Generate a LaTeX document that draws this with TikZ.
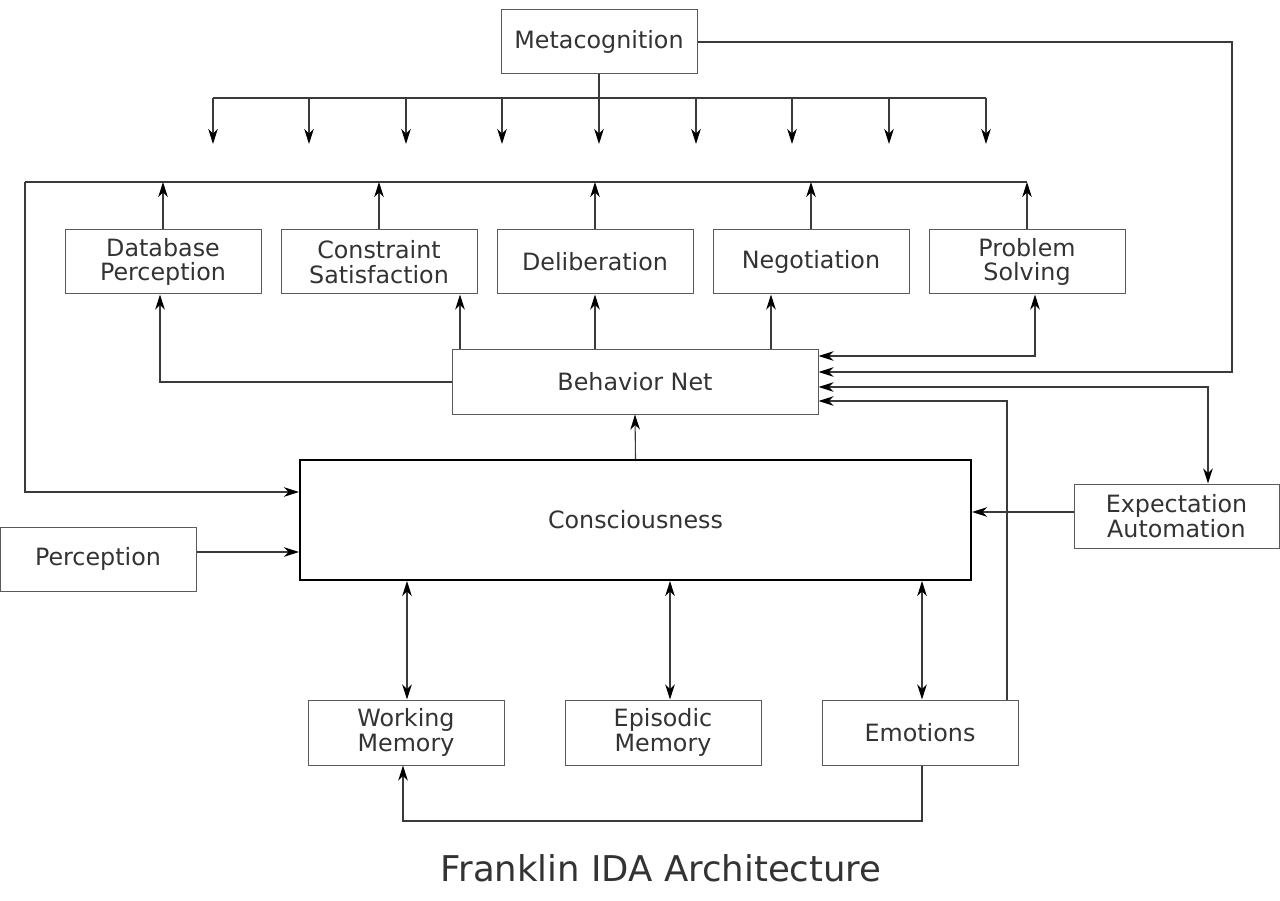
\documentclass[tikz,border=0pt]{standalone}
\usepackage{fontspec}
\setmainfont{DejaVu Sans}
\usetikzlibrary{calc}
\usetikzlibrary{arrows.meta}
\definecolor{inkgray}{HTML}{333333}
\definecolor{wiregray}{HTML}{3a3a3a}
\definecolor{framegray}{HTML}{5a5a5a}
\begin{document}
\begin{tikzpicture}[x=1pt,y=-1pt,line width=1.1pt] %% tikz
	\tikzstyle{modul}=[draw=framegray,line width=1pt,minimum width=196pt,minimum height=64pt,inner sep=0pt,align=center,text=inkgray,font=\fontsize{23.8}{24.8}\selectfont];
	\tikzstyle{wire}=[draw=wiregray];
	\tikzstyle{one}=[-{Stealth[length=15pt,width=9.5pt,inset=4.5pt,color=black]}];
	\tikzstyle{two}=[{Stealth[length=15pt,width=9.5pt,inset=4.5pt,color=black]}-{Stealth[length=15pt,width=9.5pt,inset=4.5pt,color=black]}];
	\useasboundingbox (0,0) rectangle (1280,901);
	%% boxes
	\node[modul] (meta) at (599,42) {Metacognition};
	\node[modul] (dbp) at (163,262) {Database\\Perception};
	\node[modul] (cst) at (379,262) {Constraint\\Satisfaction};
	\node[modul] (delib) at (595,262) {Deliberation};
	\node[modul] (nego) at (811,262) {Negotiation};
	\node[modul] (prob) at (1027,262) {Problem\\Solving};
	\node[modul,minimum width=366pt] (bnet) at (635,382) {Behavior Net};
	\node[modul,draw=black,line width=2pt,minimum width=671pt,minimum height=120pt] (consc) at (635.5,520) {Consciousness};
	\node[modul] (perc) at (98,559) {Perception};
	\node[modul,minimum width=205pt] (expa) at (1176.5,516) {Expectation\\Automation};
	\node[modul,minimum height=65pt] (wm) at (406,732.5) {Working\\Memory};
	\node[modul,minimum height=65pt] (epi) at (663,732.5) {Episodic\\Memory};
	\node[modul,minimum height=65pt] (emo) at (920,732.5) {Emotions};
	\node[text=inkgray,font=\fontsize{35.5}{40}\selectfont] (title) at (661,868) {Franklin IDA Architecture};
	%% metacognition fan-out
	\coordinate (fan) at (599,98);
	\draw[wire] (meta) -- (fan);
	\draw[wire] (213,98) -- (986,98);
	\foreach \x [count=\i] in {213,309,406,502,599,696,792,889,986} {
		\coordinate (tip\i) at (\x,144);
		\draw[wire,one] (\x,98) -- (tip\i);
	}
	%% feedback bus
	\coordinate (busl) at (25,182);
	\coordinate (busr) at (1027,182);
	\draw[wire] (busl) -- (busr);
	\foreach \m in {dbp,cst,delib,nego,prob}
		\draw[wire,one] (\m.north) -- (\m.north |- busl);
	\draw[wire,one] (busl) |- (consc.west |- 0,492);
	%% behavior net outputs
	\draw[wire,one] (bnet.west) -| ([xshift=-3pt]dbp.south);
	\draw[wire,one] (bnet.north -| 460,0) -- (cst.south -| 460,0);
	\draw[wire,one] (bnet.north -| delib.south) -- (delib.south);
	\draw[wire,one] (bnet.north -| 771,0) -- (nego.south -| 771,0);
	\draw[wire,two] (prob.south -| 1035,0) |- (bnet.east |- 0,356);
	\coordinate (metar) at (1232,372);
	\draw[wire,one] (meta.east) -| (metar) -- (bnet.east |- metar);
	\draw[wire,two] (bnet.east |- 0,387) -| (expa.north -| 1208,0);
	\draw[wire,one] (emo.north -| 1007,0) |- (bnet.east |- 0,401);
	%% consciousness
	\draw[wire,one] (consc.north) -- (bnet.south);
	\draw[wire,one] (perc.east |- 0,552) -- (consc.west |- 0,552);
	\draw[wire,one] (expa.west |- 0,512) -- (consc.east |- 0,512);
	\draw[wire,two] (consc.south -| 407,0) -- (wm.north -| 407,0);
	\draw[wire,two] (consc.south -| 670,0) -- (epi.north -| 670,0);
	\draw[wire,two] (consc.south -| 922,0) -- (emo.north -| 922,0);
	\coordinate (loop) at (922,821);
	\draw[wire,one] (emo.south -| loop) -- (loop) -| (wm.south -| 403,0);
\end{tikzpicture}
\end{document}
